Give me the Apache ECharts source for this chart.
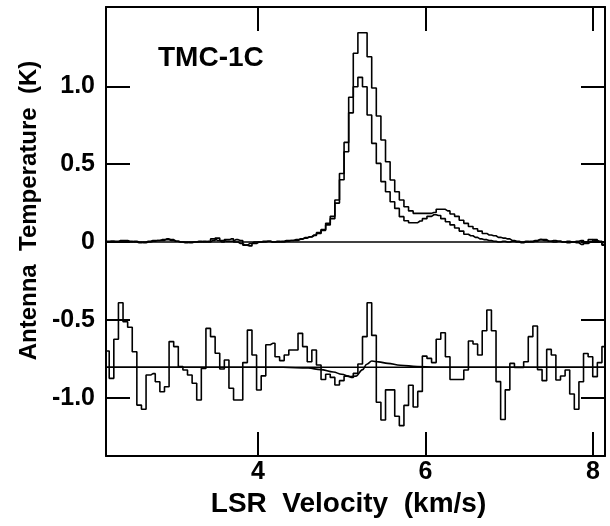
<!DOCTYPE html>
<html><head><meta charset="utf-8">
<script src="https://cdn.jsdelivr.net/npm/echarts@6/dist/echarts.min.js"></script>
<style>html,body{margin:0;padding:0;background:#fff}#c{width:610px;height:526px}</style>
</head><body><div id="c"></div>
<script>
// ---- data ----
const sourceName = 'TMC-1C';
const velStart = 2.196;      // km/s, centre of first channel
const chanWidth = 0.055;     // km/s per channel
const specA = [0.005,0.005,0.0,0.01,0.01,0.005,0.0,-0.005,0.0,0.005,0.01,0.01,0.015,0.015,0.01,0.005,0.0,0.0,-0.005,0.0,0.005,0.0,0.005,0.02,0.01,0.0,0.015,0.02,0.0,-0.01,-0.02,-0.01,0.0,0.0,0.005,0.005,0.0,0.0,0.005,0.01,0.01,0.015,
  0.02,0.028,0.034,0.045,0.06,0.08,0.12,0.165,0.27,0.44,0.64,0.93,1.213,1.345,1.345,1.19,0.99,0.81,0.655,0.516,0.398,0.323,0.27,0.227,0.2,0.184,0.184,0.184,0.184,0.19,0.21,0.21,0.20,0.18,0.165,0.14,0.12,0.10,0.085,0.07,0.055,0.045,0.04,0.03,0.025,0.02,0.01,0.005,0.0,0.005,0.0,0.005,0.015,0.01,0.005,0.01,0.005,0.0,0.005,0.0,-0.005,-0.015,0.0,0.015,0.01,0.005,-0.02];
const specB = [0.0,0.005,0.005,0.005,0.0,0.0,0.005,0.0,-0.005,0.0,0.005,0.01,0.01,0.02,0.015,0.005,0.0,-0.005,0.0,0.0,0.0,0.005,0.0,0.01,0.025,0.01,0.005,0.005,0.015,0.01,-0.02,-0.025,-0.01,0.0,0.0,0.005,0.0,0.005,0.0,0.005,0.01,0.01,
  0.018,0.025,0.032,0.042,0.055,0.075,0.11,0.15,0.25,0.40,0.58,0.83,0.998,1.058,0.998,0.816,0.634,0.505,0.388,0.323,0.259,0.216,0.163,0.137,0.124,0.124,0.135,0.15,0.165,0.175,0.17,0.15,0.13,0.11,0.09,0.07,0.05,0.04,0.03,0.02,0.015,0.01,0.005,0.0,0.005,0.0,0.005,0.0,-0.005,0.0,0.005,0.01,0.015,0.015,0.005,0.0,0.005,0.0,-0.005,0.0,0.005,0.01,-0.01,0.0,0.015,0.0,-0.015];
const residual = [-0.70,-0.876,-0.625,-0.39,-0.512,-0.548,-0.705,-1.048,-1.075,-0.855,-0.846,-0.898,-0.962,-0.93,-0.64,-0.672,-0.801,-0.822,-0.855,-0.908,-1.015,-0.812,-0.555,-0.608,-0.715,-0.816,-0.758,-0.94,-1.015,-1.015,-0.775,-0.566,-0.726,-0.951,-0.86,-0.66,-0.651,-0.737,-0.762,-0.726,-0.694,-0.694,-0.587,-0.672,-0.769,-0.694,-0.79,-0.883,-0.85,-0.87,-0.919,-0.891,-0.862,-0.87,-0.844,-0.784,-0.608,-0.39,-0.6,-1.03,-1.144,-0.95,-0.95,-1.12,-1.18,-1.05,-0.92,-1.06,-0.96,-0.733,-0.748,-0.775,-0.625,-0.583,-0.737,-0.883,-0.883,-0.883,-0.822,-0.636,-0.655,-0.726,-0.57,-0.437,-0.57,-0.897,-1.14,-0.95,-0.78,-0.806,-0.806,-0.769,-0.608,-0.54,-0.82,-0.891,-0.69,-0.726,-0.887,-0.861,-0.822,-0.977,-1.075,-0.898,-0.716,-0.737,-0.865,-0.775,-0.672];
const modelV = [2.19,4.3,4.6,4.75,4.9,5.0,5.1,5.17,5.25,5.3,5.36,5.44,5.55,5.7,5.9,6.1,8.15];
const modelT = [-0.805,-0.805,-0.81,-0.82,-0.835,-0.85,-0.865,-0.862,-0.82,-0.785,-0.765,-0.77,-0.78,-0.792,-0.8,-0.805,-0.805];
const upperBaseline = 0;
const residualOffset = -0.805;
const xRange = [2.185, 8.145];
const yRange = [-1.375, 1.51];
const xTicks = [4, 6, 8];
const yTicks = [-1.0, -0.5, 0, 0.5, 1.0];
const yTickLabels = ['-1.0', '-0.5', '0', '0.5', '1.0'];
const xTitle = 'LSR  Velocity  (km/s)';
const yTitle = 'Antenna  Temperature  (K)';

// ---- build ----
const vel = specA.map((_, i) => +(velStart + chanWidth * i).toFixed(4));
const pairs = arr => arr.map((t, i) => [vel[i], t]);
const FONT = '"Liberation Sans", Arial, Helvetica, sans-serif';
const lineW = 1.6;
const black = '#000';

function xAxisCfg(pos, showLabel) {
  return {
    type: 'value', position: pos, min: xRange[0], max: xRange[1],
    splitLine: { show: false },
    axisLine: { show: true, onZero: false, lineStyle: { color: black, width: 2 } },
    axisTick: { show: true, inside: true, length: 24, customValues: xTicks, lineStyle: { color: black, width: 2 } },
    axisLabel: { show: showLabel, customValues: xTicks, color: black, fontSize: 25, fontWeight: 'bold', fontFamily: FONT, margin: 4 },
    name: showLabel ? xTitle : '', nameLocation: 'middle', nameGap: 24,
    nameTextStyle: { color: black, fontSize: 28, fontWeight: 'bold', fontFamily: FONT, padding: [0, 14, 0, 0] }
  };
}
function yAxisCfg(pos, showLabel) {
  return {
    type: 'value', position: pos, min: yRange[0], max: yRange[1],
    splitLine: { show: false },
    axisLine: { show: true, onZero: false, lineStyle: { color: black, width: 2 } },
    axisTick: { show: true, inside: true, length: 24, customValues: yTicks, lineStyle: { color: black, width: 2 } },
    axisLabel: { show: showLabel, customValues: yTicks, color: black, fontSize: 25, fontWeight: 'bold', fontFamily: FONT, margin: 11,
      formatter: v => { const k = yTicks.findIndex(t => Math.abs(t - v) < 1e-6); return k >= 0 ? yTickLabels[k] : ''; } },
    name: showLabel ? yTitle : '', nameLocation: 'middle', nameRotate: 90, nameGap: 60,
    nameTextStyle: { color: black, fontSize: 24, fontWeight: 'bold', fontFamily: FONT, padding: [0, 0, 0, 42] }
  };
}

const chart = echarts.init(document.getElementById('c'), null, { renderer: 'canvas' });
chart.setOption({
  backgroundColor: '#fff',
  animation: false,
  title: { text: sourceName, left: 153, top: 39, textStyle: { color: black, fontSize: 28, fontWeight: 'bold', fontFamily: FONT } },
  grid: { left: 106, right: 5, top: 7, bottom: 70, containLabel: false },
  xAxis: [xAxisCfg('bottom', true), xAxisCfg('top', false)],
  yAxis: [yAxisCfg('left', true), yAxisCfg('right', false)],
  series: [
    { type: 'line', name: 'baseline', data: [[xRange[0], upperBaseline], [xRange[1], upperBaseline]], symbol: 'none', lineStyle: { color: black, width: 1.4 } },
    { type: 'line', name: 'offset', data: [[xRange[0], residualOffset], [xRange[1], residualOffset]], symbol: 'none', lineStyle: { color: black, width: 1.4 } },
    { type: 'line', name: 'spectrum A', step: 'middle', data: pairs(specA), symbol: 'none', lineStyle: { color: black, width: lineW } },
    { type: 'line', name: 'spectrum B', step: 'middle', data: pairs(specB), symbol: 'none', lineStyle: { color: black, width: lineW } },
    { type: 'line', name: 'residual', step: 'middle', data: pairs(residual), symbol: 'none', lineStyle: { color: black, width: lineW } },
    { type: 'line', name: 'model', smooth: 0.4, smoothMonotone: 'x', data: modelV.map((v, i) => [v, modelT[i]]), symbol: 'none', lineStyle: { color: black, width: lineW } }
  ]
});
</script></body></html>
